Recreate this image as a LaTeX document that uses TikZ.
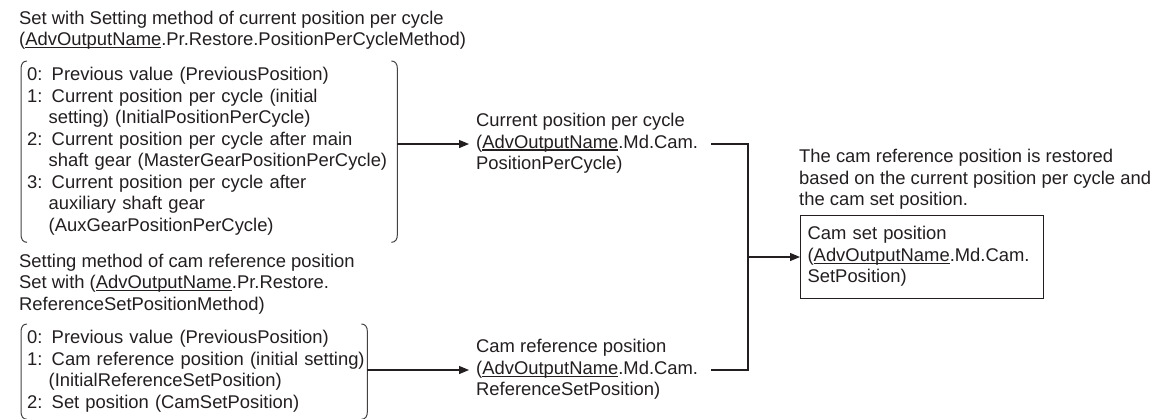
\documentclass[tikz,border=0pt]{standalone}
\usepackage{fontspec}
\setmainfont{Liberation Sans}
\usetikzlibrary{arrows.meta,calc}
\definecolor{ink}{HTML}{231F20}
\newcommand\dgfont{\fontsize{18.4}{21.5}\selectfont}
\newcommand\uln[1]{\setbox0\hbox{#1}\rlap{\rule[-0.13em]{\wd0}{0.065em}}\box0}
\newcommand\ind{\hphantom{0:\ }}
\newcommand\rows[1]{\begin{tabular}[t]{@{}l@{}}#1\end{tabular}}
\newcommand\crows[1]{\begin{tabular}{@{}l@{}}#1\end{tabular}}
\tikzset{
  txt/.style={inner sep=0pt, font=\dgfont, text=ink},
  brk/.style={txt, inner xsep=6pt, inner ysep=4.45pt, anchor=north west, align=left},
  mid/.style={txt, inner xsep=7pt, inner ysep=0pt, anchor=west},
  cbox/.style={txt, draw=ink, line width=1.2pt, inner xsep=7pt, inner ysep=9.25pt, anchor=west, text width=229pt, align=left},
  conn/.style={draw=ink, line width=1.2pt},
  arr/.style={conn, -{Triangle[length=10pt,width=8pt]}},
  brkline/.style={draw=ink!85, line width=1pt}
}
\newcommand\brackets[1]{%
  \draw[brkline] ($(#1.north west)+(6,0)$) .. controls ($(#1.north west)+(2,0)$) and ($(#1.north west)+(0,3)$) .. ($(#1.north west)+(0,8)$)
     -- ($(#1.south west)+(0,-8)$) .. controls ($(#1.south west)+(0,-3)$) and ($(#1.south west)+(2,0)$) .. ($(#1.south west)+(6,0)$);
  \draw[brkline] ($(#1.north east)+(-6,0)$) .. controls ($(#1.north east)+(-2,0)$) and ($(#1.north east)+(0,3)$) .. ($(#1.north east)+(0,8)$)
     -- ($(#1.south east)+(0,-8)$) .. controls ($(#1.south east)+(0,-3)$) and ($(#1.south east)+(-2,0)$) .. ($(#1.south east)+(-6,0)$);
}
\begin{document}
\begin{tikzpicture}[x=1pt,y=-1pt]
\path[fill=white] (0,0) rectangle (1156,418);
\useasboundingbox (0,0) rectangle (1156,418);

\node[txt, anchor=base west] (t1) at (19,24) {\rows{Set with Setting method of current position per cycle\\(\uln{AdvOutputName}.Pr.Restore.PositionPerCycleMethod)}};

\node[brk, text width=364pt] (br1) at (21,61) {\rows{0: Previous value (PreviousPosition)\\
1: Current position per cycle (initial\\
\ind setting) (InitialPositionPerCycle)\\
2: Current position per cycle after main\\
\ind shaft gear (MasterGearPositionPerCycle)\\
3: Current position per cycle after\\
\ind auxiliary shaft gear\\
\ind (AuxGearPositionPerCycle)}};
\brackets{br1}

\node[mid] (n1) at (469,144) {\crows{Current position per cycle\\(\uln{AdvOutputName}.Md.Cam.\\PositionPerCycle)}};

\node[txt, anchor=base west] (t2) at (19,267) {\rows{Setting method of cam reference position\\Set with (\uln{AdvOutputName}.Pr.Restore.\\ReferenceSetPositionMethod)}};

\node[brk, text width=334pt] (br2) at (21,324) {\rows{0: Previous value (PreviousPosition)\\
1: Cam reference position (initial setting)\\
\ind (InitialReferenceSetPosition)\\
2: Set position (CamSetPosition)}};
\brackets{br2}

\node[mid] (n2) at (469,370) {\crows{Cam reference position\\(\uln{AdvOutputName}.Md.Cam.\\ReferenceSetPosition)}};

\node[txt, anchor=base west] (note) at (799,162.5) {\rows{The cam reference position is restored\\based on the current position per cycle and\\the cam set position.}};

\node[cbox] (box) at (800,257) {\rows{Cam set position\\(\uln{AdvOutputName}.Md.Cam.\\SetPosition)}};

\coordinate (jn) at (748,257);
\draw[arr] (br1.east |- n1.west) -- (n1.west);
\draw[arr] (br2.east |- n2.west) -- (n2.west);
\draw[conn] ([xshift=6pt]n1.east) -| (jn |- n2.east) -- ([xshift=6pt]n2.east);
\draw[arr] (jn) -- (box.west);
\end{tikzpicture}
\end{document}
